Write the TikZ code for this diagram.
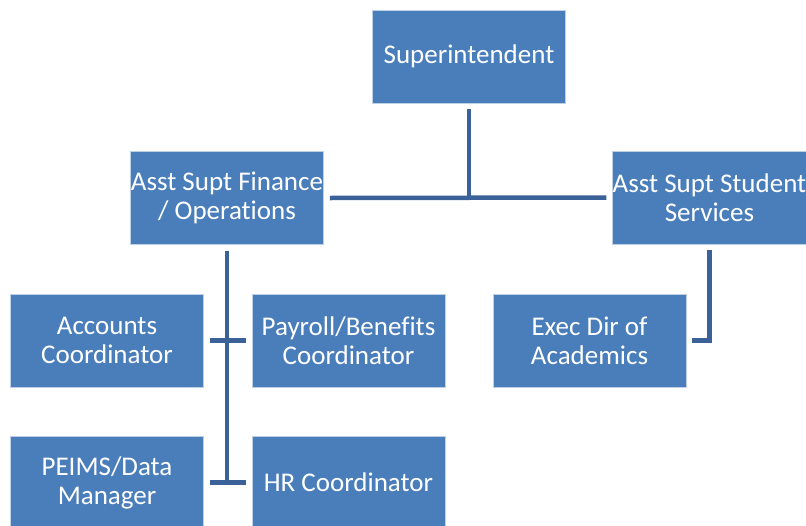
\documentclass[tikz,border=0pt]{standalone}
\usepackage{fontspec}
\setmainfont[Ligatures=NoCommon]{Carlito}
\definecolor{boxblue}{RGB}{74,126,187}
\definecolor{boxline}{RGB}{190,208,230}
\definecolor{linkblue}{RGB}{58,98,152}
\tikzset{
  post/.style={rectangle, fill=boxblue, draw=boxline, line width=0.8pt,
    minimum width=193pt, minimum height=93pt, inner sep=0pt, align=center,
    text=white, font=\fontsize{27}{29}\selectfont},
  link/.style={draw=linkblue, line width=4.5pt}
}
\begin{document}
\begin{tikzpicture}[x=1pt,y=-1pt]
\useasboundingbox (0,0) rectangle (806,525);

%Top
\node[post] (sup) at (469,56.5) {Superintendent};

%Assistants
\node[post] (fin) at (227,198) {Asst Supt Finance\\/ Operations};
\node[post] (stu) at (709.5,197.5) {Asst Supt Student\\Services};

%Staff
\node[post] (acc) at (107,340.5) {Accounts\\Coordinator};
\node[post] (pay) at (348.5,340.5) {Payroll/Benefits\\Coordinator};
\node[post] (exec) at (589.5,340.5) {Exec Dir of\\Academics};
\node[post] (peims) at (107,482.5) {PEIMS/Data\\Manager};
\node[post] (hr) at (348.5,482.5) {HR Coordinator};

%Connectors
\draw[link] ([yshift=-6pt]sup.south) -- (sup.south |- fin.east);
\draw[link] ([xshift=6pt]fin.east) -- ([xshift=-6pt]stu.west);
\draw[link] ([yshift=-6pt]fin.south) -- (fin.south |- peims.east);
\draw[link] ([xshift=6pt]acc.east) -- ([xshift=-6pt]pay.west);
\draw[link] ([xshift=6pt]peims.east) -- ([xshift=-6pt]hr.west);
\draw[link] ([yshift=-6pt]stu.south) -- (stu.south |- exec.east) -- ([xshift=6pt]exec.east);

\end{tikzpicture}
\end{document}
